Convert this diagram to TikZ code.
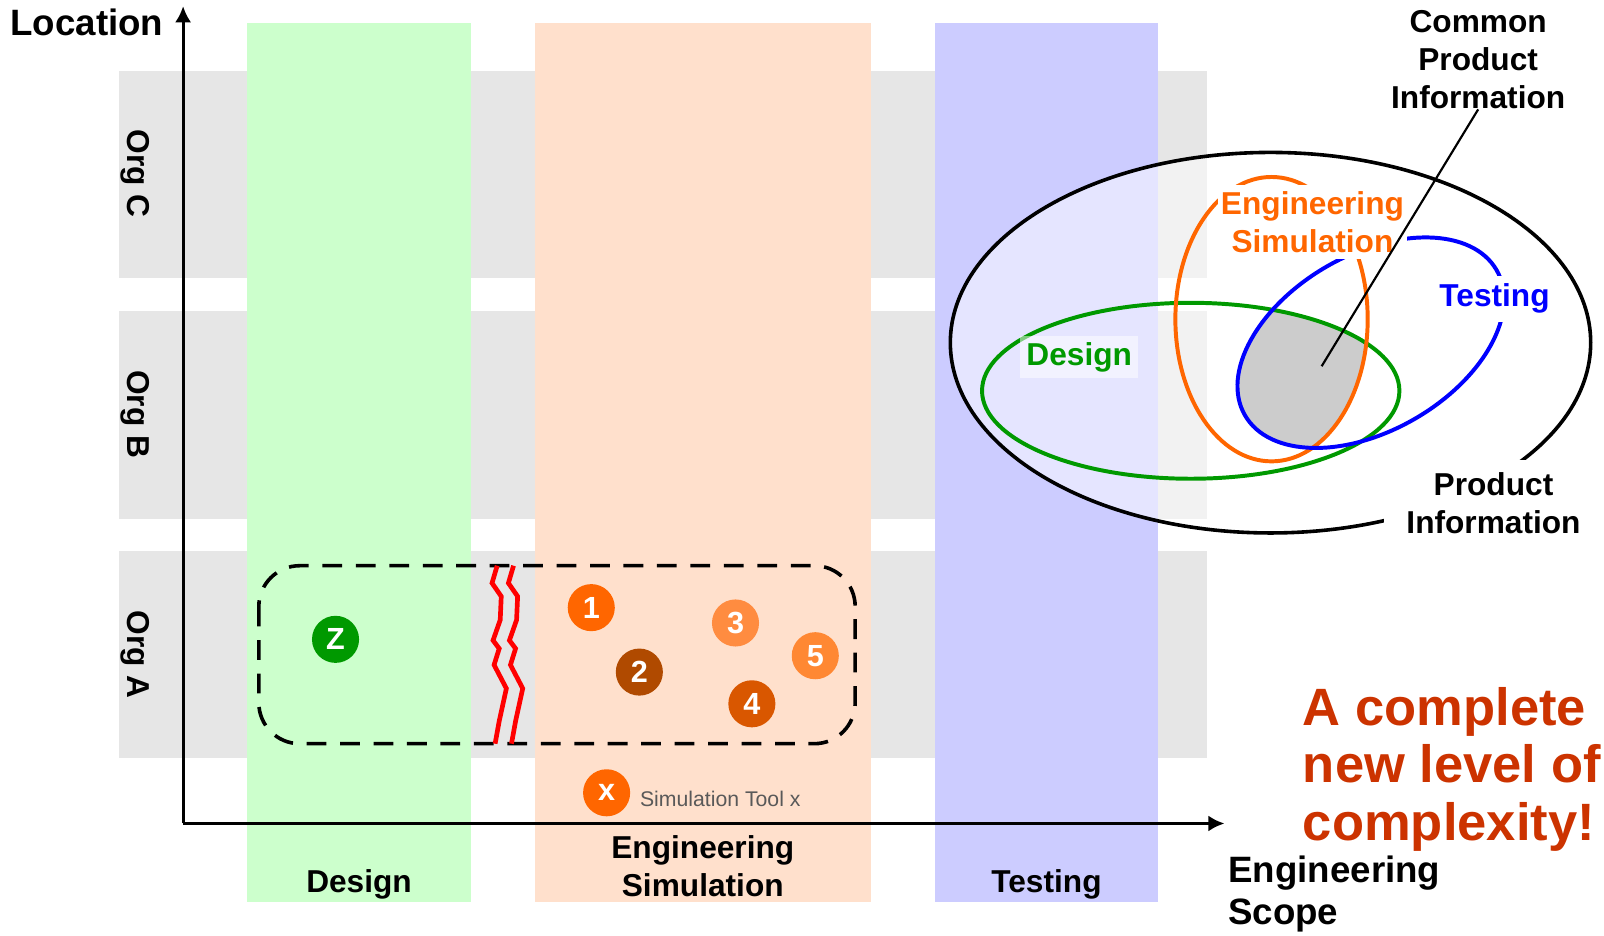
\documentclass[tikz,border=0pt]{standalone}
\usepackage{fontspec}
\setmainfont{Liberation Sans}
\usetikzlibrary{arrows.meta,positioning}

\definecolor{rowgray}{HTML}{E6E6E6}
\definecolor{designbg}{HTML}{CCFFCC}
\definecolor{simbg}{HTML}{FFE0CC}
\definecolor{testbg}{HTML}{CCCCFF}
\definecolor{designgreen}{HTML}{009900}
\definecolor{simorange}{HTML}{FF6600}
\definecolor{tooltwo}{HTML}{B04A00}
\definecolor{toolthree}{HTML}{FF8C40}
\definecolor{toolfour}{HTML}{D95700}
\definecolor{toolfive}{HTML}{FF8833}
\definecolor{testblue}{HTML}{0000FF}
\definecolor{coregray}{HTML}{CCCCCC}
\definecolor{alertred}{HTML}{CC3300}
\definecolor{notegray}{HTML}{595959}

\tikzset{
  lbl/.style={font=\bfseries\fontsize{8.8}{10.6}\selectfont, align=center, inner sep=0pt},
  biglbl/.style={font=\bfseries\fontsize{10.2}{11.9}\selectfont, align=left, inner sep=0pt},
  tool/.style={circle, minimum size=0.46cm, inner sep=0pt, text=white,
    font=\bfseries\fontsize{8.5}{10}\selectfont},
  axis/.style={line width=0.85pt, -{Latex[length=4.5pt,width=4.5pt]}},
  group/.style={line width=1pt, dash pattern=on 5.5pt off 3.8pt, rounded corners=0.4cm},
  crack/.style={red, line width=1.3pt},
  ring/.style={line width=1.1pt},
}

\begin{document}
\begin{tikzpicture}[x=0.01cm, y=-0.01cm]
    \useasboundingbox (0,0) rectangle (1568,915);
    % Org rows
    \fill[rowgray] (116,69) rectangle (1180,272);
    \fill[rowgray] (116,304) rectangle (1180,507);
    \fill[rowgray] (116,539) rectangle (1180,741);
    % Scope columns
    \fill[designbg] (241,22) rectangle (460,882);
    \fill[simbg] (523,22) rectangle (851,882);
    \fill[testbg] (914,22) rectangle (1132,882);
    % Row labels
    \node[lbl, rotate=-90] (orgc) at (132,170) {Org C};
    \node[lbl, rotate=-90] (orgb) at (132,405) {Org B};
    \node[lbl, rotate=-90] (orga) at (132,640) {Org A};
    % Axes
    \coordinate (origin) at (179,805);
    \coordinate (ytop) at (179,6);
    \coordinate (xend) at (1197,805);
    \draw[axis] (origin) -- (ytop);
    \draw[axis] (origin) -- (xend);
    \node[biglbl] (location) at (85,22) {Location};
    \node[biglbl, anchor=west] (scopelbl) at (1200,874) {Engineering\\Scope};
    % Column labels
    \node[lbl] (designcol) at (351,865) {Design};
    \node[lbl] (simcol) at (687,847) {Engineering\\Simulation};
    \node[lbl] (testcol) at (1023,865) {Testing};
    % Org A workflow
    \draw[group] (253,553) rectangle (836,727);
    \foreach \dx in {0,16}
        \draw[crack, xshift=\dx*0.01cm] (486,553) -- (481,570) -- (490,583) -- (489,606)
            -- (482,626) -- (488,634) -- (483,650) -- (495,673) -- (488,705) -- (484,727);
    \node[tool, fill=designgreen] (tz) at (328,625) {Z};
    \node[tool, fill=simorange] (t1) at (578,594) {1};
    \node[tool, fill=tooltwo] (t2) at (625,657) {2};
    \node[tool, fill=toolthree] (t3) at (719,609) {3};
    \node[tool, fill=toolfour] (t4) at (735,688) {4};
    \node[tool, fill=toolfive] (t5) at (797,641) {5};
    % Legend
    \node[tool, fill=simorange] (tx) at (593,775) {x};
    \node[font=\fontsize{5.9}{7}\selectfont, text=notegray, anchor=west, inner sep=0pt] (txlbl) at (625,781) {Simulation Tool x};
    % Product information
    \fill[white, opacity=0.5] (1242,335) ellipse (313 and 186);
    \begin{scope}
        \clip (1243,312) ellipse (94 and 139);
        \clip (1164,382) ellipse (204 and 86);
        \clip[rotate around={30:(1340,335)}] (1340,335) ellipse (142 and 86);
        \fill[coregray] (1100,200) rectangle (1400,480);
    \end{scope}
    \draw[ring, designgreen] (1164,382) ellipse (204 and 86);
    \draw[ring, simorange] (1243,312) ellipse (94 and 139);
    \draw[ring, testblue, rotate around={30:(1340,335)}] (1340,335) ellipse (142 and 86);
    \draw[line width=1pt] (1242,335) ellipse (313 and 186);
    \node[lbl, text=simorange, fill=white, inner xsep=0.03cm, inner ysep=0.06cm] (simlbl) at (1283,217) {Engineering\\Simulation};
    \node[lbl, text=testblue, fill=white, inner xsep=0.06cm, inner ysep=0.08cm] (testlbl) at (1461,292) {Testing};
    \node[lbl, text=designgreen, fill=white, fill opacity=0.5, text opacity=1, inner sep=0.06cm] (designlbl) at (1055,349) {Design};
    \node[lbl, fill=white, inner xsep=0.22cm, inner ysep=0.12cm] (prodinfo) at (1460,492) {Product\\Information};
    \node[lbl] (common) at (1445,58) {Common\\Product\\Information};
    \coordinate (core) at (1292,358);
    \draw[line width=0.6pt] (common.south) -- (core);
    % Message
    \node[font=\bfseries\fontsize{14.6}{15.9}\selectfont, text=alertred, align=left, anchor=west, inner sep=0pt] (alert) at (1273,752) {A complete\\new level of\\complexity!};
\end{tikzpicture}
\end{document}
